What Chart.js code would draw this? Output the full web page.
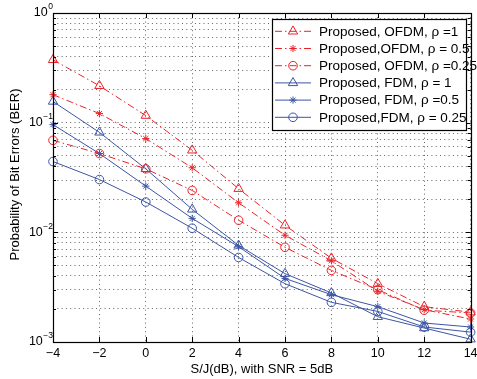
<!DOCTYPE html>
<html>
<head>
<meta charset="utf-8">
<script src="https://cdn.jsdelivr.net/npm/chart.js@4.4.0/dist/chart.umd.min.js"></script>
<style>
  html, body { margin: 0; padding: 0; background: #fff; }
</style>
</head>
<body>
<canvas id="myChart" width="477" height="379"></canvas>
<script>
// values
const sjDb = [-4, -2, 0, 2, 4, 6, 8, 10, 12, 14];
const ofdmRho1 = [0.374, 0.217, 0.116, 0.056, 0.025, 0.0116, 0.0058, 0.0034, 0.0021, 0.00187];
const ofdmRho05 = [0.180, 0.121, 0.0716, 0.0388, 0.0186, 0.0094, 0.0055, 0.0029, 0.00197, 0.00162];
const ofdmRho025 = [0.069, 0.0523, 0.0379, 0.0241, 0.0129, 0.0073, 0.0045, 0.0030, 0.00195, 0.00184];
const fdmRho1 = [0.156, 0.0816, 0.0379, 0.0162, 0.0076, 0.0042, 0.0028, 0.0017, 0.00134, 0.00106];
const fdmRho05 = [0.096, 0.0523, 0.0264, 0.0134, 0.0074, 0.0038, 0.0027, 0.0021, 0.00149, 0.00137];
const fdmRho025 = [0.0442, 0.0303, 0.0189, 0.0109, 0.0059, 0.0034, 0.0023, 0.0019, 0.00137, 0.00123];

const legendLabels = [
  'Proposed, OFDM, \u03c1 =1',
  'Proposed,OFDM, \u03c1 = 0.5',
  'Proposed, OFDM, \u03c1 =0.25',
  'Proposed, FDM, \u03c1 = 1',
  'Proposed, FDM, \u03c1 =0.5',
  'Proposed,FDM, \u03c1 = 0.25',
];
const xTickLabels = ['\u22124', '\u22122', '0', '2', '4', '6', '8', '10', '12', '14'];
const yTickValues = [1, 0.1, 0.01, 0.001];
const yTickExps = ['0', '\u22121', '\u22122', '\u22123'];
const xTitle = 'S/J(dB), with SNR = 5dB';
const yTitle = 'Probability of Bit Errors (BER)';

const RED = 'rgb(235,35,40)';
const BLUE = 'rgb(60,85,165)';
const DASHDOT = [7, 3, 1.5, 3];
const FONT = '"Liberation Sans", Arial, sans-serif';

const seriesList = [
  { data: ofdmRho1, color: RED, dash: DASHDOT, style: 'triangle', r: 5.4 },
  { data: ofdmRho05, color: RED, dash: DASHDOT, style: 'star', r: 3.6 },
  { data: ofdmRho025, color: RED, dash: DASHDOT, style: 'circle', r: 4.3 },
  { data: fdmRho1, color: BLUE, dash: [], style: 'triangle', r: 5.4 },
  { data: fdmRho05, color: BLUE, dash: [], style: 'star', r: 3.6 },
  { data: fdmRho025, color: BLUE, dash: [], style: 'circle', r: 4.3 },
];

const datasets = seriesList.map(function (s, i) {
  return {
    label: legendLabels[i],
    data: sjDb.map(function (x, j) { return { x: x, y: s.data[j] }; }),
    borderColor: s.color,
    borderWidth: 1,
    borderDash: s.dash,
    pointStyle: s.style,
    pointRadius: s.r,
    pointBorderWidth: 1,
    pointBorderColor: s.color,
    pointBackgroundColor: 'rgba(0,0,0,0)',
    fill: false,
    tension: 0,
    clip: false,
  };
});

const framePlugin = {
  id: 'frame',
  afterDraw: function (chart) {
    const ctx = chart.ctx;
    const a = chart.chartArea;
    const xs = chart.scales.x;
    const ys = chart.scales.y;
    ctx.save();
    ctx.setLineDash([]);
    ctx.strokeStyle = '#000';
    ctx.lineWidth = 1;

    // inward ticks
    ctx.beginPath();
    sjDb.forEach(function (v) {
      const px = Math.round(xs.getPixelForValue(v)) + 0.5;
      ctx.moveTo(px, a.bottom); ctx.lineTo(px, a.bottom - 5);
      ctx.moveTo(px, a.top); ctx.lineTo(px, a.top + 5);
    });
    ys.ticks.forEach(function (t) {
      const py = Math.round(ys.getPixelForValue(t.value)) + 0.5;
      const len = t.major ? 5 : 3;
      ctx.moveTo(a.left, py); ctx.lineTo(a.left + len, py);
      ctx.moveTo(a.right, py); ctx.lineTo(a.right - len, py);
    });
    ctx.stroke();

    ctx.lineWidth = 1.2;
    ctx.strokeRect(Math.round(a.left) + 0.5, Math.round(a.top) + 0.5,
      Math.round(a.right - a.left), Math.round(a.bottom - a.top));

    // tick labels
    ctx.fillStyle = '#000';
    ctx.font = '12.5px ' + FONT;
    ctx.textAlign = 'center';
    ctx.textBaseline = 'middle';
    sjDb.forEach(function (v, i) {
      ctx.fillText(xTickLabels[i], xs.getPixelForValue(v), a.bottom + 12);
    });
    yTickValues.forEach(function (v, i) {
      const py = ys.getPixelForValue(v);
      ctx.font = '8.5px ' + FONT;
      ctx.textAlign = 'right';
      const ew = ctx.measureText(yTickExps[i]).width;
      ctx.fillText(yTickExps[i], 53, py - 6);
      ctx.font = '12.5px ' + FONT;
      ctx.fillText('10', 53 - ew - 0.5, py);
    });

    // axis titles
    ctx.font = '13px ' + FONT;
    ctx.textAlign = 'center';
    ctx.fillText(xTitle, (a.left + a.right) / 2, 369);
    ctx.save();
    ctx.translate(15, (a.top + a.bottom) / 2 - 3);
    ctx.rotate(-Math.PI / 2);
    ctx.fillText(yTitle, 0, 0);
    ctx.restore();

    // legend box
    const bx = 272, by = 19, bw = 194, bh = 111;
    ctx.fillStyle = '#fff';
    ctx.fillRect(bx, by, bw, bh);
    ctx.lineWidth = 1.2;
    ctx.strokeStyle = '#000';
    ctx.strokeRect(bx + 0.5, by + 0.5, bw, bh);
    seriesList.forEach(function (s, i) {
      const ly = 31.3 + i * 17.2;
      ctx.strokeStyle = s.color;
      ctx.lineWidth = 1;
      ctx.setLineDash(s.dash);
      ctx.beginPath();
      ctx.moveTo(275, ly); ctx.lineTo(311, ly);
      ctx.stroke();
      ctx.setLineDash([]);
      ctx.fillStyle = 'rgba(0,0,0,0)';
      Chart.helpers.drawPoint(ctx, { pointStyle: s.style, radius: s.r, rotation: 0, borderWidth: 1 }, 293, ly);
      ctx.fillStyle = '#000';
      ctx.font = '13.5px ' + FONT;
      ctx.textAlign = 'left';
      ctx.fillText(legendLabels[i], 319, ly + 0.5);
    });
    ctx.restore();
  },
};

const ctx = document.getElementById('myChart').getContext('2d');
const chart = new Chart(ctx, {
  type: 'line',
  data: { datasets: datasets },
  options: {
    responsive: false,
    animation: false,
    devicePixelRatio: 1,
    layout: { padding: { left: 53, top: 13, right: 5, bottom: 37 } },
    plugins: {
      legend: { display: false },
      tooltip: { enabled: false },
    },
    scales: {
      x: {
        type: 'linear',
        min: -4,
        max: 14,
        offset: false,
        ticks: { display: false, stepSize: 2 },
        grid: { color: 'rgba(60,60,60,0.8)', lineWidth: 1, drawTicks: false },
        border: { display: false, dash: [1, 3.3] },
        afterFit: function (scale) { scale.height = 0; },
      },
      y: {
        type: 'logarithmic',
        min: 0.001,
        max: 1,
        ticks: { display: false },
        grid: { color: 'rgba(60,60,60,0.8)', lineWidth: 1, drawTicks: false },
        border: { display: false, dash: [1, 3.3] },
        afterBuildTicks: function (scale) {
          const ticks = [];
          for (let e = -3; e < 0; e++) {
            for (let m = 1; m <= 9; m++) {
              ticks.push({ value: m * Math.pow(10, e), major: m === 1 });
            }
          }
          ticks.push({ value: 1, major: true });
          scale.ticks = ticks;
        },
        afterFit: function (scale) { scale.width = 0; },
      },
    },
  },
  plugins: [framePlugin],
});
</script>
</body>
</html>
